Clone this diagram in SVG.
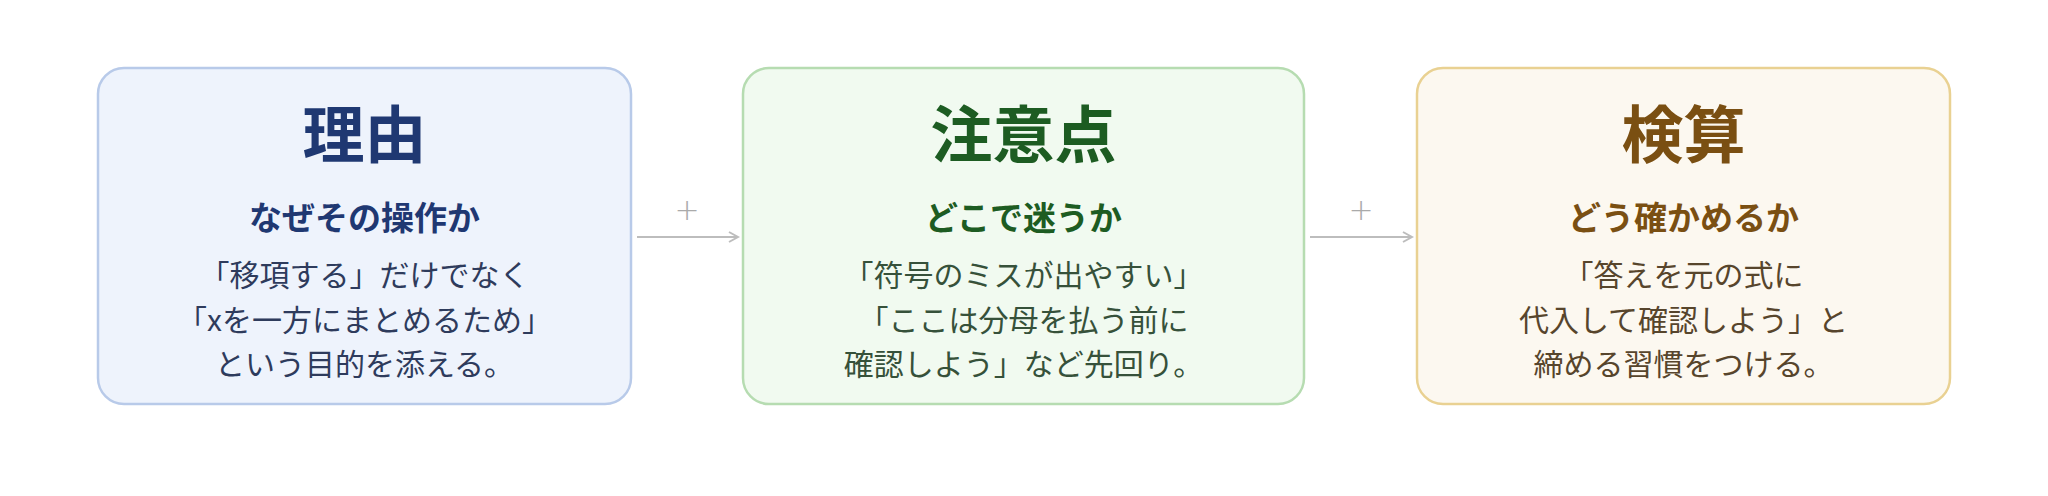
<svg xmlns="http://www.w3.org/2000/svg" width="2048" height="496" viewBox="0 0 2048 496">
<defs>
<style>
text{font-family:"Noto Sans CJK JP","Noto Sans",sans-serif;text-anchor:middle}
.t{font-size:62px;font-weight:700}
.s{font-size:33px;font-weight:700}
.b{font-size:30px;font-weight:400}
.box{stroke-width:2.5}
.conn{stroke:#bdbdbd;stroke-width:2;fill:none}
.plus{font-size:30px;fill:#aaaaaa;font-family:"DejaVu Sans",sans-serif;font-weight:300}
</style>
<marker id="ah" viewBox="0 0 12 12" refX="10" refY="6" markerWidth="12" markerHeight="12" markerUnits="userSpaceOnUse" orient="auto">
<path d="M1,1 L10,6 L1,11" fill="none" stroke="#bdbdbd" stroke-width="2"/>
</marker>
</defs>
<rect width="2048" height="496" fill="#ffffff"/>
<g id="connectors">
<line class="conn" x1="637" y1="237" x2="738" y2="237" marker-end="url(#ah)"/>
<text class="plus" x="687" y="220">+</text>
<line class="conn" x1="1310" y1="237" x2="1412" y2="237" marker-end="url(#ah)"/>
<text class="plus" x="1361" y="220">+</text>
</g>
<g id="node-reason">
<rect class="box" x="98" y="68" width="533" height="336" rx="26" fill="#eef3fc" stroke="#b8cae9"/>
<text class="t" x="364.5" y="158" fill="#1f3872">理由</text>
<text class="s" x="364.5" y="230" fill="#1f3872">なぜその操作か</text>
<text class="b" x="364.5" y="286" fill="#2e3b5c">「移項する」だけでなく</text>
<text class="b" x="364.5" y="331" fill="#2e3b5c">「xを一方にまとめるため」</text>
<text class="b" x="364.5" y="375" fill="#2e3b5c">という目的を添える。</text>
</g>
<g id="node-caution">
<rect class="box" x="743" y="68" width="561" height="336" rx="26" fill="#f1faf0" stroke="#b6dcb1"/>
<text class="t" x="1023.5" y="158" fill="#1d5c22">注意点</text>
<text class="s" x="1023.5" y="230" fill="#1d5c22">どこで迷うか</text>
<text class="b" x="1023.5" y="286" fill="#36513a">「符号のミスが出やすい」</text>
<text class="b" x="1023.5" y="331" fill="#36513a">「ここは分母を払う前に</text>
<text class="b" x="1023.5" y="375" fill="#36513a">確認しよう」など先回り。</text>
</g>
<g id="node-check">
<rect class="box" x="1417" y="68" width="533" height="336" rx="26" fill="#fcf8f0" stroke="#e9d192"/>
<text class="t" x="1683.5" y="158" fill="#7a4f12">検算</text>
<text class="s" x="1683.5" y="230" fill="#7a4f12">どう確かめるか</text>
<text class="b" x="1683.5" y="286" fill="#57452c">「答えを元の式に</text>
<text class="b" x="1683.5" y="331" fill="#57452c">代入して確認しよう」と</text>
<text class="b" x="1683.5" y="375" fill="#57452c">締める習慣をつける。</text>
</g>
</svg>
